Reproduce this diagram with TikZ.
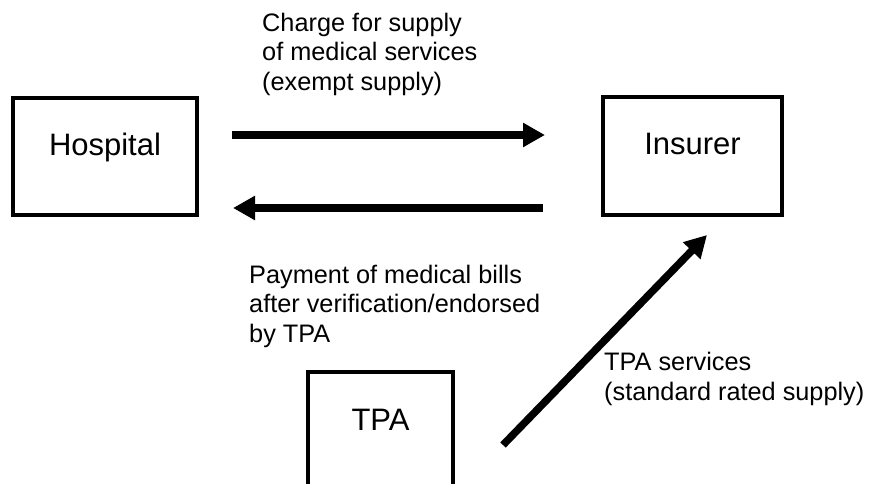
\documentclass[tikz,border=0pt]{standalone}
\usepackage{fontspec}
\setmainfont{Liberation Sans}
\usetikzlibrary{arrows.meta}
\tikzset{
  party/.style={draw, line width=3.3pt, inner sep=0pt, font=\fontsize{31}{37}\selectfont, text height=23pt, text depth=25pt},
  flow/.style={line width=7.5pt, -{Triangle[width=23pt,length=22pt]}},
  note/.style={inner sep=0pt, anchor=base west, align=left, font=\fontsize{25.3}{29.5}\selectfont}
}
\begin{document}
\begin{tikzpicture}[x=1pt,y=-1pt]
\useasboundingbox (0,0) rectangle (881,484);
\clip (0,0) rectangle (881,484);
\node[party, minimum width=184pt, minimum height=117pt] (hosp) at (105,156.5) {Hospital};
\node[party, minimum width=179pt, minimum height=118pt] (ins) at (692.5,156) {Insurer};
\node[party, minimum width=145pt, minimum height=118pt] (tpa) at (380.5,431) {TPA};
\coordinate (a1s) at (232,135);
\coordinate (a1e) at (545,135);
\coordinate (a2s) at (543,208);
\coordinate (a2e) at (233,208);
\coordinate (a3s) at (503,445);
\coordinate (a3e) at (707,235);
\draw[flow] (a1s) -- (a1e);
\draw[flow] (a2s) -- (a2e);
\draw[flow] (a3s) -- (a3e);
\node[note] (lcharge) at (262,90.5) {Charge for supply\\of medical services\\(exempt supply)};
\node[note] (lpay) at (249,342) {Payment of medical bills\\after verification/endorsed\\by TPA};
\node[note] (ltpa) at (604,400) {TPA services\\(standard rated supply)};
\end{tikzpicture}
\end{document}
